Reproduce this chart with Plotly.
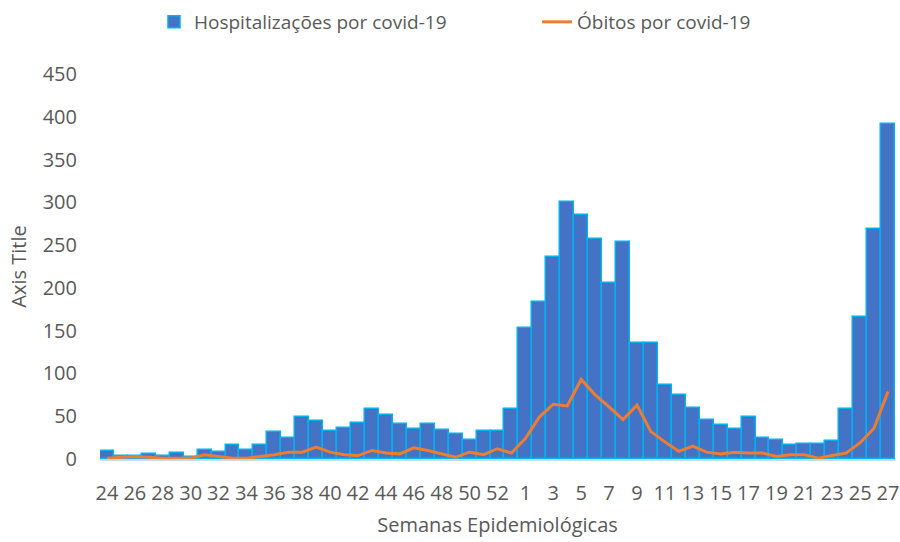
import plotly.graph_objects as go

weeks = list(range(24, 54)) + list(range(1, 28))
hospitalizacoes = [9, 3, 3, 6, 4, 7, 2, 11, 8, 16, 11, 16, 31, 24, 49, 44, 33, 36, 42, 58,
                   52, 41, 35, 41, 34, 29, 22, 33, 33, 58, 153, 184, 236, 300, 285, 257, 206, 254,
                   136, 136, 87, 75, 60, 46, 40, 35, 49, 24, 22, 16, 17, 17, 21, 58, 166, 269, 392]
obitos = [1, 2, 3, 2, 1, 1, 1, 5, 3, 1, 1, 3, 5, 8, 8, 14, 8, 5, 4, 10,
          7, 6, 13, 10, 6, 2, 8, 5, 12, 7, 24, 49, 64, 62, 93, 75, 61, 46,
          63, 32, 20, 9, 15, 8, 6, 8, 7, 7, 3, 5, 5, 1, 4, 7, 19, 36, 79]
yticks = [0, 50, 100, 150, 200, 250, 300, 350, 400, 450]

idx = list(range(len(weeks)))
tickvals = idx[::2]
ticktext = [str(w) for w in weeks[::2]]

FONT = "Open Sans"
GRAY = "#595959"

fig = go.Figure()
fig.add_trace(go.Bar(
    x=idx, y=hospitalizacoes, name="Hospitalizações por covid-19",
    marker=dict(color="#4472C4", line=dict(color="#00B0F0", width=1.5)),
))
fig.add_trace(go.Scatter(
    x=idx, y=obitos, name="Óbitos por covid-19", mode="lines",
    line=dict(color="#ED7D31", width=3),
))

fig.update_layout(
    width=900, height=542,
    margin=dict(l=100, r=5, t=74, b=83, autoexpand=False),
    paper_bgcolor="white", plot_bgcolor="white",
    bargap=0,
    font=dict(family=FONT, size=20, color=GRAY),
    showlegend=True,
    legend=dict(orientation="h", x=154 / 900, xanchor="left", xref="container",
                y=1 - 3 / 542, yanchor="top", yref="container",
                font=dict(size=19, color=GRAY),
                entrywidth=338, itemwidth=30, traceorder="normal"),
    xaxis=dict(range=[-0.5, len(weeks) - 0.5], tickvals=tickvals, ticktext=ticktext,
               automargin=True,
               showgrid=False, zeroline=False, showline=True, linecolor="#c5dbe6", linewidth=2,
               ticks="", ticklabelstandoff=15, tickangle=0,
               title=dict(text="Semanas Epidemiológicas", font=dict(size=20, color=GRAY), standoff=13)),
    yaxis=dict(range=[0, 450], tickvals=yticks, showgrid=False, zeroline=False, showline=False,
               automargin=True,
               ticks="", ticklabelstandoff=22,
               title=dict(text="Axis Title", font=dict(size=20, color=GRAY), standoff=10)),
)

fig.write_html("out.html", config={"displayModeBar": False},
               post_script="document.body.style.margin='0';")
